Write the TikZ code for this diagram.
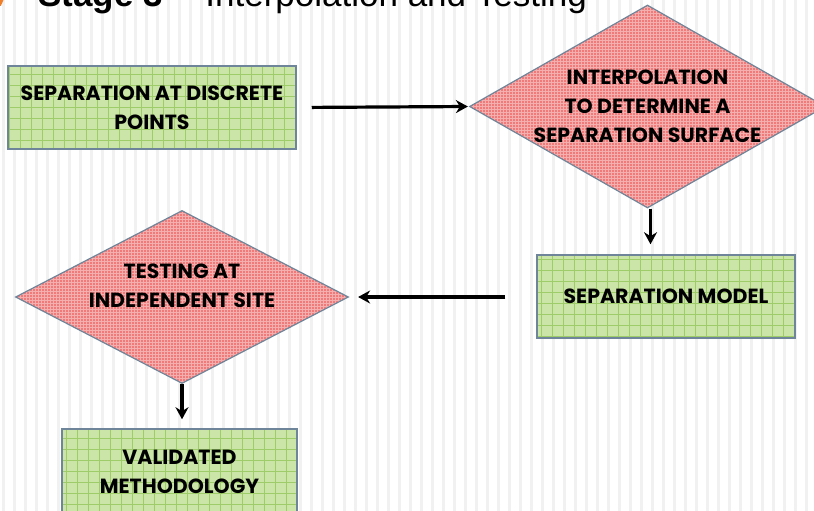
\documentclass[tikz,border=0pt]{standalone}
\usepackage{fontspec}
\usetikzlibrary{shapes.geometric,arrows.meta}
\newfontfamily\boxfont{Poppins}
\newfontfamily\titlefont{Liberation Sans}
\definecolor{boxgreen}{HTML}{CBE5A8}
\definecolor{gridgreen}{HTML}{9DCC68}
\definecolor{diared}{HTML}{F07A7A}
\definecolor{edgeblue}{HTML}{6F8599}
\definecolor{stripegray}{HTML}{F1F1F1}
\definecolor{bulletorange}{HTML}{F07F2A}
\tikzset{
  boxtext/.style={font=\boxfont\bfseries\fontsize{20.5}{29}\selectfont, align=center},
  greenbox/.style={boxtext, rectangle, draw=edgeblue, line width=1.5pt, fill=boxgreen, inner sep=0pt,
    path picture={\draw[gridgreen, line width=0.7pt, step=11pt]
      (path picture bounding box.south west) grid (path picture bounding box.north east);}},
  reddiamond/.style={boxtext, diamond, draw=edgeblue, line width=1.2pt, fill=diared, inner sep=-30pt,
    path picture={\draw[white, opacity=0.4, line width=0.7pt, step=3pt]
      (path picture bounding box.south west) grid (path picture bounding box.north east);}},
  flowarrow/.style={line width=3.2pt, -{Stealth[length=12pt,width=13pt]}}
}
\begin{document}
\begin{tikzpicture}[x=1pt,y=-1pt]
    \useasboundingbox (0,0) rectangle (814,511);
    \fill[white] (0,0) rectangle (814,511);
    \foreach \x in {2,13,...,814}
        \fill[stripegray] (\x,0) rectangle ++(3,511);

    % title, cut at the top
    \fill[bulletorange] (0,0) -- (3.5,0) -- (0.8,6) -- (0,6) -- cycle;
    \node[anchor=base west, inner sep=0pt, font=\titlefont\fontsize{35}{40}\selectfont] (title) at (38,7)
        {\textbf{Stage 3} -- Interpolation and Testing};

    \node[greenbox, minimum width=288pt, minimum height=83pt] (points) at (152,107.5)
        {SEPARATION AT DISCRETE\\POINTS};
    \node[reddiamond, shape aspect=1.75, minimum width=356pt, minimum height=203pt] (interp) at (647.5,106.5)
        {INTERPOLATION\\TO DETERMINE A\\SEPARATION SURFACE};
    \node[greenbox, minimum width=258pt, minimum height=83pt] (model) at (666,296.5)
        {SEPARATION MODEL};
    \node[reddiamond, shape aspect=1.93, minimum width=333pt, minimum height=173pt] (testing) at (182,297)
        {TESTING AT\\INDEPENDENT SITE\\[-7pt]};
    \node[greenbox, minimum width=235pt, minimum height=86pt] (valid) at (179.5,472)
        {VALIDATED\\METHODOLOGY};

    \draw[flowarrow, shorten <=15pt, shorten >=1pt] (points.east) -- (interp.west);
    \draw[flowarrow, shorten >=10pt] ([xshift=3pt]interp.south) -- ([xshift=3pt]interp.south |- model.north);
    \draw[flowarrow, shorten <=31pt, shorten >=9pt] (model.west |- testing.east) -- (testing.east);
    \draw[flowarrow, shorten >=9pt] (testing.south) -- (testing.south |- valid.north);
\end{tikzpicture}
\end{document}
